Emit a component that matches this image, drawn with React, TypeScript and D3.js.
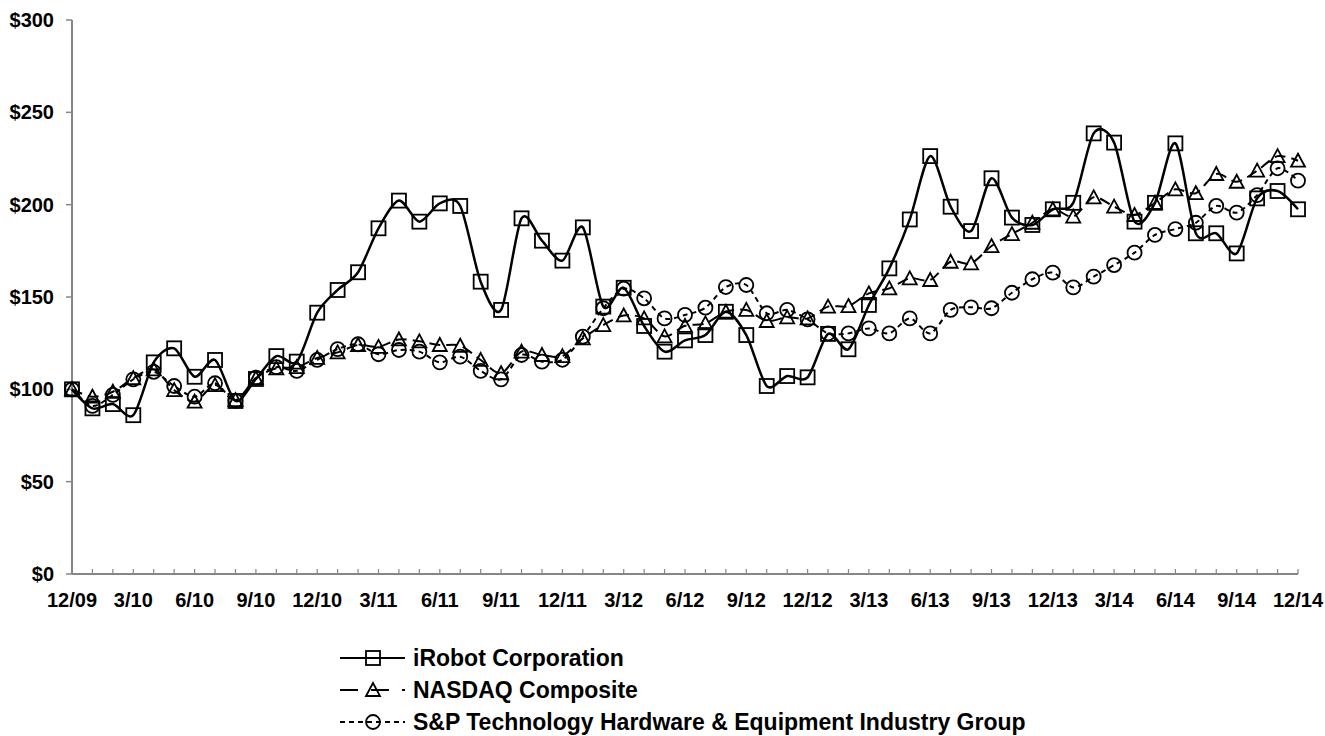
import React from "react";
import * as d3 from "d3";

// monthly index values, 12/09 .. 12/14
const months = d3.range(61);
const tickLabels = ["12/09", "3/10", "6/10", "9/10", "12/10", "3/11", "6/11", "9/11", "12/11", "3/12", "6/12", "9/12", "12/12", "3/13", "6/13", "9/13", "12/13", "3/14", "6/14", "9/14", "12/14"];

const irobot = [100, 89.7, 92, 86, 114.6, 122.2, 106.8, 115.9, 93.7, 105.6, 118, 115, 141.5, 153.8, 163.4, 187.2, 202.2, 190.8, 200.7, 199.3, 158.3, 143, 192.6, 180.5, 169.7, 187.7, 144.8, 155, 134.3, 120.4, 126.5, 129.4, 142, 129.4, 101.8, 107.2, 106.5, 130, 121.7, 145.7, 165.5, 192, 226.3, 198.9, 185.7, 214.3, 193, 189, 197.5, 201, 238.6, 233.6, 190.8, 201, 233.2, 184.5, 184.5, 173.6, 203.4, 207.4, 197.5];
const nasdaq = [100, 96, 98.7, 106, 110.8, 99.6, 93.3, 102.3, 94.2, 106, 111.4, 112, 117, 120, 124, 123, 127, 126, 124, 123.6, 115.9, 108.7, 120.4, 118.6, 118, 127.6, 134.8, 140, 138.4, 128.7, 134.4, 135.7, 142, 143, 137, 139, 138.4, 144.8, 145.1, 152, 154.7, 160.1, 159.2, 169.1, 168.2, 177.6, 184.1, 190.2, 197.5, 193.5, 204, 198.9, 194.4, 201, 208.3, 206.2, 216.6, 212.4, 218.4, 226.3, 223.8];
const sp = [100, 91, 97, 105.4, 109.5, 101.8, 96, 103.3, 93.8, 106.3, 112, 110, 115.9, 121.8, 124.4, 119, 121.3, 120.4, 114.6, 117.7, 110, 105.4, 118.6, 115, 116, 128.5, 143.9, 154.5, 149.3, 138.4, 140.3, 144.2, 155.4, 156.5, 141.2, 143, 137.9, 130.3, 130.3, 133, 130.3, 138.4, 130.3, 143, 144.4, 143.9, 152.3, 159.6, 163.2, 155.2, 161, 167.3, 174, 183.6, 186.8, 190.2, 199.3, 195.7, 205.2, 219.7, 213];

const yTicks = [0, 50, 100, 150, 200, 250, 300];

const series = [
  { name: "iRobot Corporation", values: irobot, marker: "square", dash: null, width: 2.5 },
  { name: "NASDAQ Composite", values: nasdaq, marker: "triangle", dash: "11,6", width: 2 },
  { name: "S&P Technology Hardware & Equipment Industry Group", values: sp, marker: "circle", dash: "5,4", width: 2 },
];

const font = "'Liberation Sans', Arial, sans-serif";
const axisColor = "#868686";

const Marker = ({ kind, x, y }: { kind: string; x: number; y: number }) => {
  const common = { fill: "none", stroke: "#000", strokeWidth: 1.8 };
  if (kind === "square") return <rect x={x - 7} y={y - 7} width={14} height={14} {...common} />;
  if (kind === "triangle") return <path d={`M${x},${y - 7}L${x + 7},${y + 6}L${x - 7},${y + 6}Z`} {...common} />;
  return <circle cx={x} cy={y} r={7} {...common} />;
};

export default function App() {
  const width = 1325;
  const height = 736;
  const margin = { left: 72, right: 27, top: 20, bottom: 162 };

  const x = d3.scaleLinear().domain([0, 60]).range([margin.left, width - margin.right]);
  const y = d3.scaleLinear().domain([0, 300]).range([height - margin.bottom, margin.top]);

  const line = d3.line<number>()
    .x((_, i) => x(i))
    .y(d => y(d))
    .curve(d3.curveCardinal.tension(0.15));

  const legendY = [658, 690, 722];

  return (
    <svg width={width} height={height} style={{ position: "absolute", left: 0, top: 0, background: "#fff" }}
      fontFamily={font} fontWeight="bold">
      {/* y axis */}
      <line x1={x(0)} x2={x(0)} y1={y(300)} y2={y(0)} stroke={axisColor} strokeWidth={2} />
      {yTicks.map(t => (
        <g key={t}>
          <line x1={x(0) - 6} x2={x(0)} y1={y(t)} y2={y(t)} stroke={axisColor} strokeWidth={1.5} />
          <text x={54} y={y(t)} dy="0.35em" textAnchor="end" fontSize={20}>${t}</text>
        </g>
      ))}
      {/* x axis */}
      <line x1={x(0)} x2={x(60)} y1={y(0)} y2={y(0)} stroke={axisColor} strokeWidth={2} />
      {months.map(m => (
        <line key={m} x1={x(m)} x2={x(m)} y1={y(0)} y2={y(0) - 5} stroke={axisColor} strokeWidth={1.2} />
      ))}
      {tickLabels.map((t, i) => (
        <text key={t} x={x(i * 3)} y={y(0) + 33} textAnchor="middle" fontSize={20}>{t}</text>
      ))}

      {/* series */}
      {series.map(s => (
        <g key={s.name}>
          <path d={line(s.values) || ""} fill="none" stroke="#000" strokeWidth={s.width}
            strokeDasharray={s.dash || undefined} />
          {s.values.map((v, i) => <Marker key={i} kind={s.marker} x={x(i)} y={y(v)} />)}
        </g>
      ))}

      {/* legend */}
      {series.map((s, i) => (
        <g key={s.name} transform={`translate(0,${legendY[i]})`}>
          <line x1={340} x2={405} y1={0} y2={0} stroke="#000" strokeWidth={2}
            strokeDasharray={s.marker === "triangle" ? "18,13" : s.dash || undefined} />
          <Marker kind={s.marker} x={373} y={0} />
          <text x={413} y={0} dy="0.35em" fontSize={23}>{s.name}</text>
        </g>
      ))}
    </svg>
  );
}
